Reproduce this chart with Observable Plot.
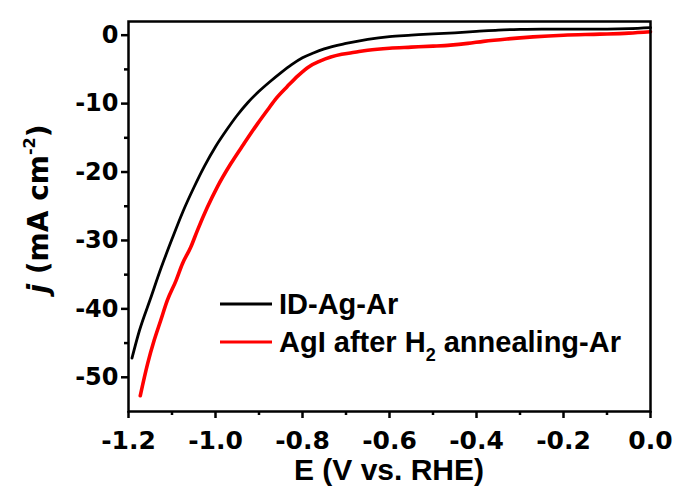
<!DOCTYPE html>
<html><head><meta charset="utf-8">
<script src="https://cdn.jsdelivr.net/npm/d3@7"></script>
<script src="https://cdn.jsdelivr.net/npm/@observablehq/plot@0.6"></script>
<style>body{margin:0;background:#fff;} svg{display:block;background:#fff}</style>
</head><body><div id="chart"></div>
<script>
// ID-Ag-Ar (black)
const blackE = [-1.192,-1.175,-1.15,-1.125,-1.10,-1.075,-1.05,-1.025,-1.00,-0.975,-0.95,-0.925,-0.90,-0.875,-0.85,-0.825,-0.80,-0.775,-0.75,-0.70,-0.65,-0.60,-0.55,-0.50,-0.45,-0.40,-0.35,-0.30,-0.25,-0.20,-0.15,-0.10,-0.05,0.00];
const blackJ = [-47.2,-43.2,-38.6,-34.0,-29.8,-25.8,-22.3,-19.1,-16.3,-13.9,-11.7,-9.8,-8.2,-6.8,-5.5,-4.3,-3.3,-2.6,-2.0,-1.2,-0.6,-0.2,0.0,0.2,0.35,0.55,0.75,0.85,0.9,0.9,0.9,0.9,0.95,1.1];
// AgI after H2 annealing-Ar (red)
const redE = [-1.173,-1.156,-1.141,-1.126,-1.111,-1.091,-1.076,-1.057,-1.042,-1.019,-0.996,-0.965,-0.935,-0.904,-0.88,-0.86,-0.835,-0.81,-0.785,-0.76,-0.735,-0.71,-0.68,-0.65,-0.60,-0.55,-0.50,-0.46,-0.42,-0.384,-0.33,-0.27,-0.20,-0.116,-0.05,0.00];
const redJ = [-52.7,-48.0,-44.6,-41.7,-38.8,-35.9,-33.4,-31.0,-28.6,-25.2,-22.2,-18.8,-15.9,-13.0,-10.9,-9.2,-7.5,-5.9,-4.6,-3.8,-3.2,-2.8,-2.5,-2.2,-1.9,-1.75,-1.6,-1.45,-1.2,-0.9,-0.55,-0.25,0.0,0.15,0.3,0.5];

const seriesNames = ["ID-Ag-Ar", "AgI after H2 annealing-Ar"];
const seriesColors = ["#000000", "#ff0000"];
const xTicks = [-1.2,-1.0,-0.8,-0.6,-0.4,-0.2,0.0];
const xMinor = [-1.1,-0.9,-0.7,-0.5,-0.3,-0.1];
const yTicks = [0,-10,-20,-30,-40,-50];
const yMinor = [-5,-15,-25,-35,-45];
const xLabel = "E (V vs. RHE)";

const black = blackE.map((e,i)=>({E:e, j:blackJ[i]}));
const red = redE.map((e,i)=>({E:e, j:redJ[i]}));

const tickFont = {fontFamily:"DejaVu Sans, Liberation Sans, sans-serif", fontWeight:"bold"};

const chart = Plot.plot({
  width:676, height:488,
  marginLeft:128, marginRight:26, marginTop:21, marginBottom:77,
  x:{domain:[-1.2,0]},
  y:{domain:[-55,2]},
  marks:[
    Plot.line(black,{x:"E", y:"j", stroke:seriesColors[0], strokeWidth:2.8, curve:"monotone-x"}),
    Plot.line(red,{x:"E", y:"j", stroke:seriesColors[1], strokeWidth:3.6, curve:"monotone-x"}),
    Plot.axisX({ticks:xTicks, tickSize:7, tickPadding:13, tickFormat:d=>d.toFixed(1), fontSize:25, ...tickFont, strokeWidth:2.5, label:null}),
    Plot.axisX({ticks:xMinor, tickSize:4, tickFormat:()=>"", strokeWidth:2.5, label:null}),
    Plot.axisY({ticks:yTicks, tickSize:7, tickPadding:3, tickFormat:d=>String(d), fontSize:24, ...tickFont, strokeWidth:2.5, label:null}),
    Plot.axisY({ticks:yMinor, tickSize:4, tickFormat:()=>"", strokeWidth:2.5, label:null}),
    Plot.frame({strokeWidth:2.5})
  ]
});
document.getElementById("chart").append(chart);

const svg = d3.select(chart);
// x axis title
svg.append("text")
  .attr("x", 389).attr("y", 480)
  .attr("text-anchor","middle")
  .attr("font-family","Liberation Sans, Arial, sans-serif")
  .attr("font-weight","bold").attr("font-size",30)
  .attr("fill","#000")
  .text(xLabel);
// y axis title
const yl = svg.append("text")
  .attr("transform","translate(48,209) rotate(-90)")
  .attr("text-anchor","middle")
  .attr("font-family","DejaVu Sans, sans-serif")
  .attr("font-weight","bold").attr("font-size",28)
  .attr("fill","#000");
yl.append("tspan").attr("font-style","italic").text("j");
yl.append("tspan").text(" (mA cm");
yl.append("tspan").attr("font-size",16).attr("dy",-13).text("-2");
yl.append("tspan").attr("dy",13).text(")");

// legend
const leg = svg.append("g").attr("font-family","Liberation Sans, Arial, sans-serif").attr("font-weight","bold").attr("font-size",29).attr("fill","#000").attr("text-anchor","start");
const rows = [{y:304, base:314}, {y:342, base:352}];
rows.forEach((r,i)=>{
  leg.append("line").attr("x1",220).attr("x2",272).attr("y1",r.y).attr("y2",r.y)
    .attr("stroke",seriesColors[i]).attr("stroke-width",3);
  const t = leg.append("text").attr("x",279).attr("y",r.base).attr("text-anchor","start");
  if (i===0) t.text(seriesNames[0]);
  else {
    t.append("tspan").text("AgI after H");
    t.append("tspan").attr("font-size",18).attr("dy",9).text("2");
    t.append("tspan").attr("dy",-9).text(" annealing-Ar");
  }
});
</script></body></html>
